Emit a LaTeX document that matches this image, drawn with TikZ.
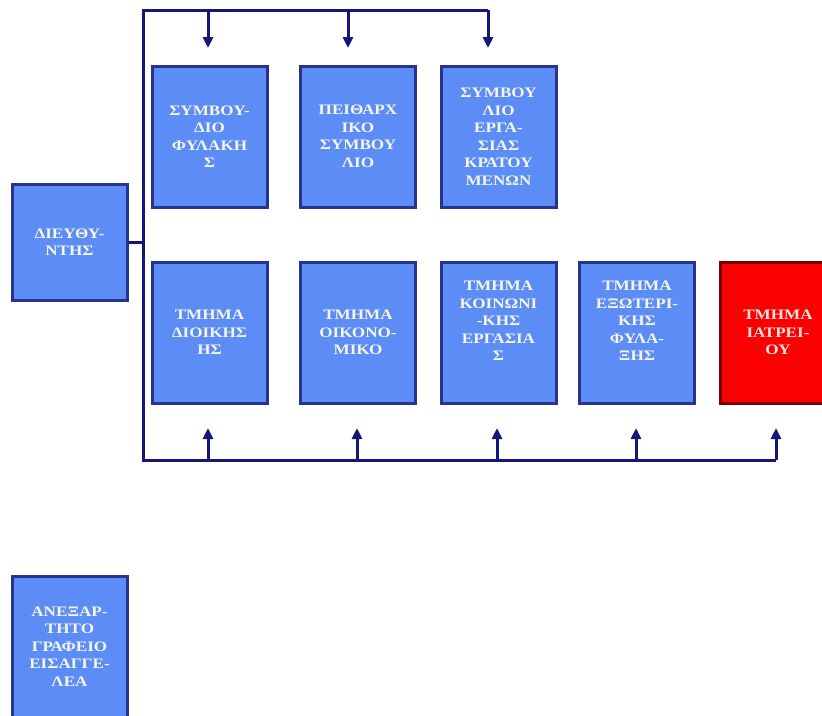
\documentclass[tikz,border=0pt]{standalone}
\usepackage{fontspec}
\setmainfont{Liberation Serif}
\newfontfamily\boxfont{Liberation Serif}[FakeStretch=1.18]
\usetikzlibrary{arrows.meta}
\definecolor{boxfill}{RGB}{92,140,246}
\definecolor{boxline}{RGB}{40,52,140}
\definecolor{wire}{RGB}{22,22,120}
\definecolor{txt}{RGB}{246,246,232}
\definecolor{redfill}{RGB}{250,0,0}
\definecolor{redline}{RGB}{120,0,0}
\definecolor{redtxt}{RGB}{255,228,220}
\tikzset{
  unitbox/.style={draw=boxline, fill=boxfill, line width=3pt, minimum width=115pt, minimum height=141pt,
    inner sep=0pt, align=center, text=txt, font=\boxfont\bfseries\fontsize{14.5}{17.5}\selectfont},
  dirbox/.style={unitbox, minimum height=116pt},
  redbox/.style={unitbox, draw=redline, fill=redfill, text=redtxt},
  wireline/.style={draw=wire, line width=3pt},
  arrowline/.style={wireline, -{Triangle[width=10pt,length=11pt]}}
}
\begin{document}
\begin{tikzpicture}[x=1pt,y=-1pt]
\useasboundingbox (0,0) rectangle (822,715);
\clip (0,0) rectangle (822,715);
% boxes
\node[dirbox] (dir) at (69.5,242) {ΔΙΕΥΘΥ-\\ΝΤΗΣ};
\node[unitbox] (t1) at (209.5,136.5) {ΣΥΜΒΟΥ-\\ΔΙΟ\\ΦΥΛΑΚΗ\\Σ};
\node[unitbox] (t2) at (358,136.5) {ΠΕΙΘΑΡΧ\\ΙΚΟ\\ΣΥΜΒΟΥ\\ΛΙΟ};
\node[unitbox] (t3) at (498.5,136.5) {ΣΥΜΒΟΥ\\ΛΙΟ\\ΕΡΓΑ-\\ΣΙΑΣ\\ΚΡΑΤΟΥ\\ΜΕΝΩΝ};
\node[unitbox] (b1) at (209.5,332.5) {ΤΜΗΜΑ\\ΔΙΟΙΚΗΣ\\ΗΣ};
\node[unitbox] (b2) at (358,332.5) {ΤΜΗΜΑ\\ΟΙΚΟΝΟ-\\ΜΙΚΟ};
\node[unitbox] (b3) at (498.5,332.5) {ΤΜΗΜΑ\\ΚΟΙΝΩΝΙ\\-ΚΗΣ\\ΕΡΓΑΣΙΑ\\Σ\\[6pt]};
\node[unitbox] (b4) at (637,332.5) {ΤΜΗΜΑ\\ΕΞΩΤΕΡΙ-\\ΚΗΣ\\ΦΥΛΑ-\\ΞΗΣ\\[6pt]};
\node[redbox] (b5) at (778,332.5) {ΤΜΗΜΑ\\ΙΑΤΡΕΙ-\\ΟΥ};
\node[unitbox] (ind) at (69.5,646.5) {ΑΝΕΞΑΡ-\\ΤΗΤΟ\\ΓΡΑΦΕΙΟ\\ΕΙΣΑΓΓΕ-\\ΛΕΑ};
% coordinates
\coordinate (trtop) at (143,10);
\coordinate (trbot) at (143,460);
\coordinate (tbar) at (488,10);
\coordinate (bbar) at (776,460);
\coordinate (a1) at (208,48);
\coordinate (a2) at (348,48);
\coordinate (a3) at (488,48);
\coordinate (u1) at (208,428);
\coordinate (u2) at (357,428);
\coordinate (u3) at (497,428);
\coordinate (u4) at (636,428);
\coordinate (u5) at (776,428);
% wires
\draw[wireline] (tbar) -- (trtop) -- (trbot) -- (bbar);
\draw[wireline] (dir.east) -- (dir.east -| trtop);
\foreach \a in {a1,a2,a3} \draw[arrowline] (\a |- trtop) -- (\a);
\foreach \u in {u1,u2,u3,u4,u5} \draw[arrowline] (\u |- trbot) -- (\u);
\end{tikzpicture}
\end{document}
